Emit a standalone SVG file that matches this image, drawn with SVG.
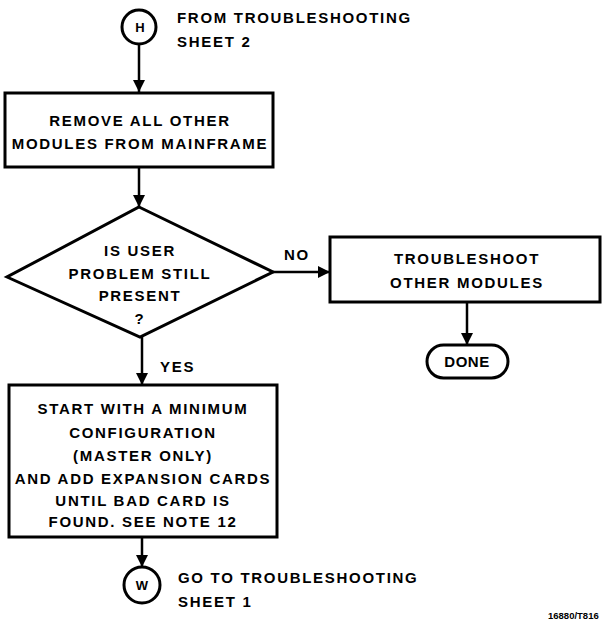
<svg xmlns="http://www.w3.org/2000/svg" width="604" height="629" viewBox="0 0 604 629">
<defs>
<marker id="arr" markerWidth="12" markerHeight="14" refX="12" refY="7" orient="auto" markerUnits="userSpaceOnUse">
<path d="M0,1 L12,7 L0,13 Z" fill="#000"/>
</marker>
<style>
.s{fill:#fff;stroke:#000;stroke-width:3}
.t{font-family:"Liberation Sans",Arial,sans-serif;font-weight:bold;font-size:15px;fill:#000;letter-spacing:1.7px}
.c{text-anchor:middle}
.l{fill:none;stroke:#000;stroke-width:2.5}
</style>
</defs>
<rect width="604" height="629" fill="#fff"/>
<g id="connectors">
<line class="l" x1="139" y1="44" x2="139" y2="92" marker-end="url(#arr)"/>
<line class="l" x1="139" y1="167" x2="139" y2="207" marker-end="url(#arr)"/>
<line class="l" x1="273" y1="272" x2="330" y2="272" marker-end="url(#arr)"/>
<line class="l" x1="467" y1="302" x2="467" y2="345" marker-end="url(#arr)"/>
<line class="l" x1="142" y1="337" x2="142" y2="385" marker-end="url(#arr)"/>
<line class="l" x1="142" y1="537" x2="142" y2="567" marker-end="url(#arr)"/>
<text class="t" x="284" y="260">NO</text>
<text class="t" x="160" y="372">YES</text>
</g>
<g id="H">
<circle class="s" cx="139" cy="27" r="17"/>
<text class="t c" x="140" y="32" style="font-size:13px;letter-spacing:0">H</text>
<text class="t" x="177" y="23">FROM TROUBLESHOOTING</text>
<text class="t" x="177" y="47">SHEET 2</text>
</g>
<g id="remove">
<rect class="s" x="5" y="93" width="268" height="74"/>
<text class="t c" x="140" y="126">REMOVE ALL OTHER</text>
<text class="t c" x="140" y="149">MODULES FROM MAINFRAME</text>
</g>
<g id="decision">
<path class="s" d="M139,207 L273,272 L140,337 L7,277 Z"/>
<text class="t c" x="140" y="256">IS USER</text>
<text class="t c" x="140" y="279">PROBLEM STILL</text>
<text class="t c" x="140" y="301">PRESENT</text>
<text class="t c" x="140" y="324">?</text>
</g>
<g id="troubleshoot">
<rect class="s" x="330" y="237" width="270" height="65"/>
<text class="t c" x="467" y="264">TROUBLESHOOT</text>
<text class="t c" x="467" y="288">OTHER MODULES</text>
</g>
<g id="done">
<rect class="s" x="427" y="345" width="81" height="33" rx="16.5"/>
<text class="t c" x="467" y="367" style="letter-spacing:0.5px">DONE</text>
</g>
<g id="start">
<rect class="s" x="9" y="385" width="268" height="152"/>
<text class="t c" x="143" y="414">START WITH A MINIMUM</text>
<text class="t c" x="143" y="438">CONFIGURATION</text>
<text class="t c" x="143" y="461">(MASTER ONLY)</text>
<text class="t c" x="143" y="484">AND ADD EXPANSION CARDS</text>
<text class="t c" x="143" y="506">UNTIL BAD CARD IS</text>
<text class="t c" x="143" y="527">FOUND. SEE NOTE 12</text>
</g>
<g id="W">
<circle class="s" cx="142" cy="585" r="18"/>
<text class="t c" x="142" y="590" style="font-size:13px;letter-spacing:0">W</text>
<text class="t" x="178" y="583">GO TO TROUBLESHOOTING</text>
<text class="t" x="178" y="607">SHEET 1</text>
</g>
<text class="t" x="548" y="619" style="font-size:9.5px;letter-spacing:0">16880/T816</text>
</svg>
